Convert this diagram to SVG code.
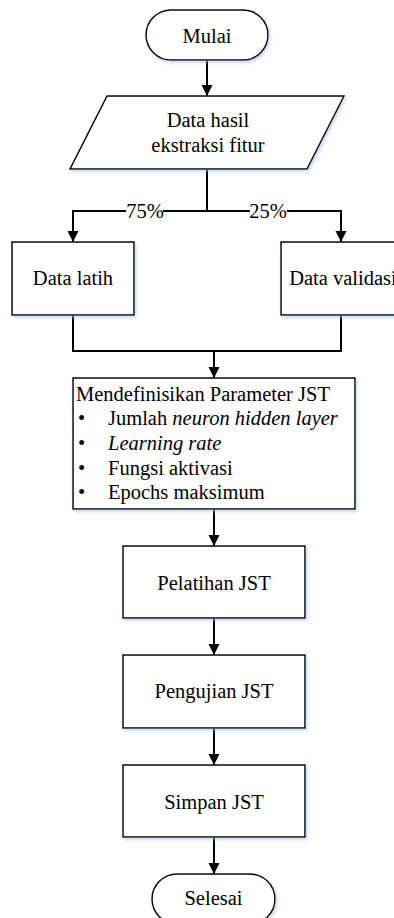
<svg xmlns="http://www.w3.org/2000/svg" width="394" height="918" viewBox="0 0 394 918">
<style>
  .shape { fill: #ffffff; stroke: #000000; stroke-width: 1.5; filter: url(#shadow); }
  .txt { font-family: "Liberation Serif", "Times New Roman", serif; font-size: 20.5px; fill: #000000; }
  .mid { text-anchor: middle; }
  .it { font-style: italic; }
  .conn { fill: none; stroke: #000000; stroke-width: 2; }
  .lbl { fill: #ffffff; stroke: none; }
</style>
<defs>
  <filter id="shadow" x="-10%" y="-10%" width="130%" height="130%">
    <feDropShadow dx="1.5" dy="2" stdDeviation="1.5" flood-color="#9fbce0" flood-opacity="0.6"/>
  </filter>
  <marker id="arrow" markerWidth="12" markerHeight="12" refX="11" refY="6" orient="auto" markerUnits="userSpaceOnUse">
    <path d="M0,0.5 L11,6 L0,11.5 Z" fill="#000000"/>
  </marker>
</defs>
<rect width="394" height="918" fill="#ffffff"/>

<g id="connectors">
  <line class="conn" x1="207" y1="60" x2="207" y2="96" marker-end="url(#arrow)"/>
  <line class="conn" x1="207" y1="169" x2="207" y2="211"/>
  <polyline class="conn" points="207,211 73,211 73,242" marker-end="url(#arrow)"/>
  <polyline class="conn" points="207,211 341,211 341,242" marker-end="url(#arrow)"/>
  <rect class="lbl" x="126" y="202" width="37" height="18"/>
  <text class="txt mid" x="145" y="218">75%</text>
  <rect class="lbl" x="250" y="202" width="37" height="18"/>
  <text class="txt mid" x="268" y="218">25%</text>
  <polyline class="conn" points="73,315 73,351 341,351 341,315"/>
  <line class="conn" x1="214" y1="351" x2="214" y2="378" marker-end="url(#arrow)"/>
  <line class="conn" x1="214" y1="509" x2="214" y2="546" marker-end="url(#arrow)"/>
  <line class="conn" x1="214" y1="618" x2="214" y2="655" marker-end="url(#arrow)"/>
  <line class="conn" x1="214" y1="728" x2="214" y2="765" marker-end="url(#arrow)"/>
  <line class="conn" x1="214" y1="837" x2="214" y2="874" marker-end="url(#arrow)"/>
</g>

<g id="mulai">
  <rect class="shape" x="146" y="10" width="122" height="50" rx="25" ry="25"/>
  <text class="txt mid" x="207" y="43">Mulai</text>
</g>

<g id="data-hasil">
  <polygon class="shape" points="107,96 344,96 307,169 70,169"/>
  <text class="txt mid" x="208" y="127">Data hasil</text>
  <text class="txt mid" x="208" y="152">ekstraksi fitur</text>
</g>

<g id="data-latih">
  <rect class="shape" x="12" y="242" width="122" height="73"/>
  <text class="txt mid" x="73" y="285">Data latih</text>
</g>

<g id="data-validasi">
  <rect class="shape" x="281" y="242" width="122" height="73"/>
  <text class="txt mid" x="343" y="285">Data validasi</text>
</g>

<g id="parameter">
  <rect class="shape" x="73" y="378" width="282" height="131"/>
  <text class="txt" x="76" y="401">Mendefinisikan Parameter JST</text>
  <text class="txt" x="78" y="425">•</text>
  <text class="txt" x="108" y="425">Jumlah <tspan class="it">neuron hidden layer</tspan></text>
  <text class="txt" x="78" y="450">•</text>
  <text class="txt it" x="108" y="450">Learning rate</text>
  <text class="txt" x="78" y="475">•</text>
  <text class="txt" x="108" y="475">Fungsi aktivasi</text>
  <text class="txt" x="78" y="499">•</text>
  <text class="txt" x="108" y="499">Epochs maksimum</text>
</g>

<g id="pelatihan">
  <rect class="shape" x="123" y="546" width="182" height="72"/>
  <text class="txt mid" x="214" y="590">Pelatihan JST</text>
</g>

<g id="pengujian">
  <rect class="shape" x="123" y="655" width="182" height="73"/>
  <text class="txt mid" x="214" y="698">Pengujian JST</text>
</g>

<g id="simpan">
  <rect class="shape" x="123" y="765" width="182" height="72"/>
  <text class="txt mid" x="214" y="809">Simpan JST</text>
</g>

<g id="selesai">
  <rect class="shape" x="152" y="874" width="123" height="50" rx="25" ry="25"/>
  <text class="txt mid" x="213.5" y="905">Selesai</text>
</g>
</svg>
